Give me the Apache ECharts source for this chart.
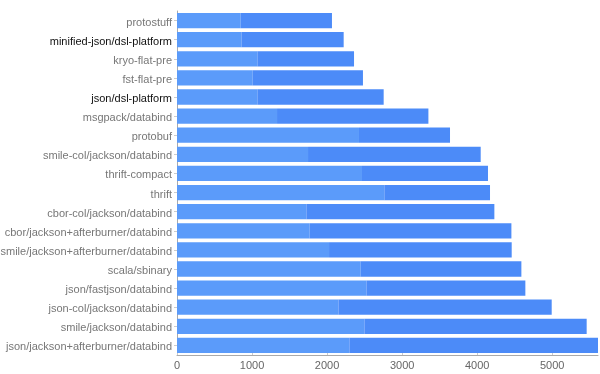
<!DOCTYPE html>
<html>
<head>
<meta charset="utf-8">
<script src="https://cdn.jsdelivr.net/npm/echarts@6/dist/echarts.min.js"></script>
<style>html,body{margin:0;padding:0;background:#fff}#c{width:600px;height:374px}</style>
</head>
<body>
<div id="c"></div>
<script>
const categories = ["protostuff","minified-json/dsl-platform","kryo-flat-pre","fst-flat-pre","json/dsl-platform","msgpack/databind","protobuf","smile-col/jackson/databind","thrift-compact","thrift","cbor-col/jackson/databind","cbor/jackson+afterburner/databind","smile/jackson+afterburner/databind","scala/sbinary","json/fastjson/databind","json-col/jackson/databind","smile/jackson/databind","json/jackson+afterburner/databind"];
const highlighted = ["minified-json/dsl-platform","json/dsl-platform"];
const firstPart = [849,862,1071,1009,1071,1333,2425,1746,2465,2763,1724,1768,2026,2448,2524,2151,2497,2297];
const secondPart = [1216,1359,1288,1469,1683,2017,1213,2301,1679,1408,2505,2688,2434,2141,2118,2842,2962,3313];
const xTicks = [0,1000,2000,3000,4000,5000];

const FONT = 'Liberation Sans, Arial, sans-serif';
const totals = firstPart.map((v,i)=>v+secondPart[i]);
const chart = echarts.init(document.getElementById('c'));
chart.setOption({
  animation:false,
  grid:{left:177,right:2,top:11,bottom:19,containLabel:false,outerBoundsMode:'none'},
  xAxis:{type:'value',min:0,max:Math.max(...totals),interval:1000,
    axisLine:{show:true,lineStyle:{color:'#aaa'}},
    axisTick:{show:true,length:3,inside:true,lineStyle:{color:'#ccc'}},
    splitLine:{show:false},
    axisLabel:{color:'#666',fontFamily:FONT,fontSize:11,margin:5,
      showMaxLabel:false,formatter:v=>xTicks.includes(v)?String(v):''}},
  yAxis:{type:'category',data:categories,inverse:true,
    axisLine:{show:true,lineStyle:{color:'#aaa'}},
    axisTick:{show:true,alignWithLabel:true,length:3,lineStyle:{color:'#ccc'}},
    axisLabel:{fontFamily:FONT,fontSize:11,margin:5,padding:[4,0,0,0],
      formatter:v=>highlighted.includes(v)?'{h|'+v+'}':'{n|'+v+'}',
      rich:{h:{color:'#111',fontSize:11,fontFamily:FONT},n:{color:'#777',fontSize:11,fontFamily:FONT}}}},
  series:[
    {type:'bar',stack:'t',data:firstPart,itemStyle:{color:'#5b9bfa'},barCategoryGap:'20%'},
    {type:'bar',stack:'t',data:secondPart,itemStyle:{color:'#4c8bf8'}}
  ]
});
</script>
</body>
</html>
